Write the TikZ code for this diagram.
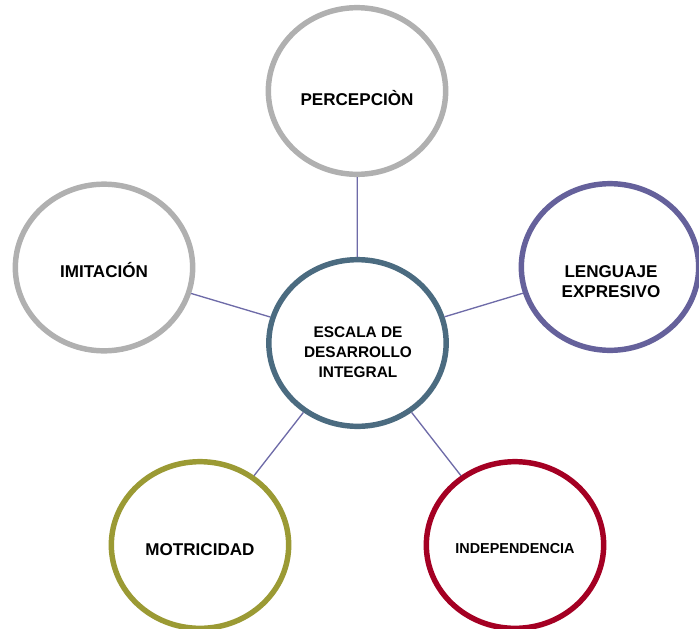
\documentclass[tikz,border=0pt]{standalone}
\usepackage{fontspec}
\setmainfont{Liberation Sans}
\usetikzlibrary{shapes.geometric}

\definecolor{ringgray}{HTML}{B0B0B0}
\definecolor{hubblue}{HTML}{4B6B80}
\definecolor{langviolet}{HTML}{65619B}
\definecolor{motolive}{HTML}{9B9A34}
\definecolor{indred}{HTML}{A40023}
\definecolor{linkviolet}{HTML}{6E6BA8}

\begin{document}
\begin{tikzpicture}[
  x=0.75pt, y=-0.75pt,
  ring/.style={ellipse, draw, line width=4.1pt, fill=white,
               minimum width=133pt, minimum height=125pt, inner sep=0pt},
  txt/.style={font=\bfseries\fontsize{12.8}{15}\selectfont,
              text height=9.2pt, text depth=0pt, inner sep=0pt},
  link/.style={linkviolet, line width=1pt},
]
\useasboundingbox (0,0) rectangle (699,628);

%% ---- centre ----
\node[ring, draw=hubblue] (hub) at (357.5,343)
  {};
\node[font=\bfseries\fontsize{11.55}{15}\selectfont, align=center, inner sep=0pt]
  (hubtxt) at (358,352.5) {ESCALA DE\\DESARROLLO\\INTEGRAL};

%% ---- outer circles ----
\node[ring, draw=ringgray,
      label={[txt, yshift=-6pt]center:PERCEPCIÒN}] (perc) at (357,91) {};
\node[ring, draw=langviolet] (leng) at (610,267) {};
\node[font=\bfseries\fontsize{12.8}{15}\selectfont, align=center, inner sep=0pt]
  (lengtxt) at (611,282) {LENGUAJE\\EXPRESIVO};
\node[ring, draw=ringgray,
      label={[txt, yshift=-2.6pt]center:IMITACIÓN}] (imit) at (104,267.5) {};
\node[ring, draw=motolive,
      label={[txt, yshift=-3pt]center:MOTRICIDAD}] (motr) at (200,545) {};
\node[ring, draw=indred,
      label={[txt, font=\bfseries\fontsize{10.8}{13}\selectfont,
              text height=7.7pt, yshift=-2.3pt]center:INDEPENDENCIA}] (indep) at (515,545) {};

%% ---- links ----
\draw[link] (hub) -- (perc);
\draw[link] (hub) -- (leng);
\draw[link] (hub) -- (imit);
\draw[link] (hub) -- (motr);
\draw[link] (hub) -- (indep);
\end{tikzpicture}
\end{document}
